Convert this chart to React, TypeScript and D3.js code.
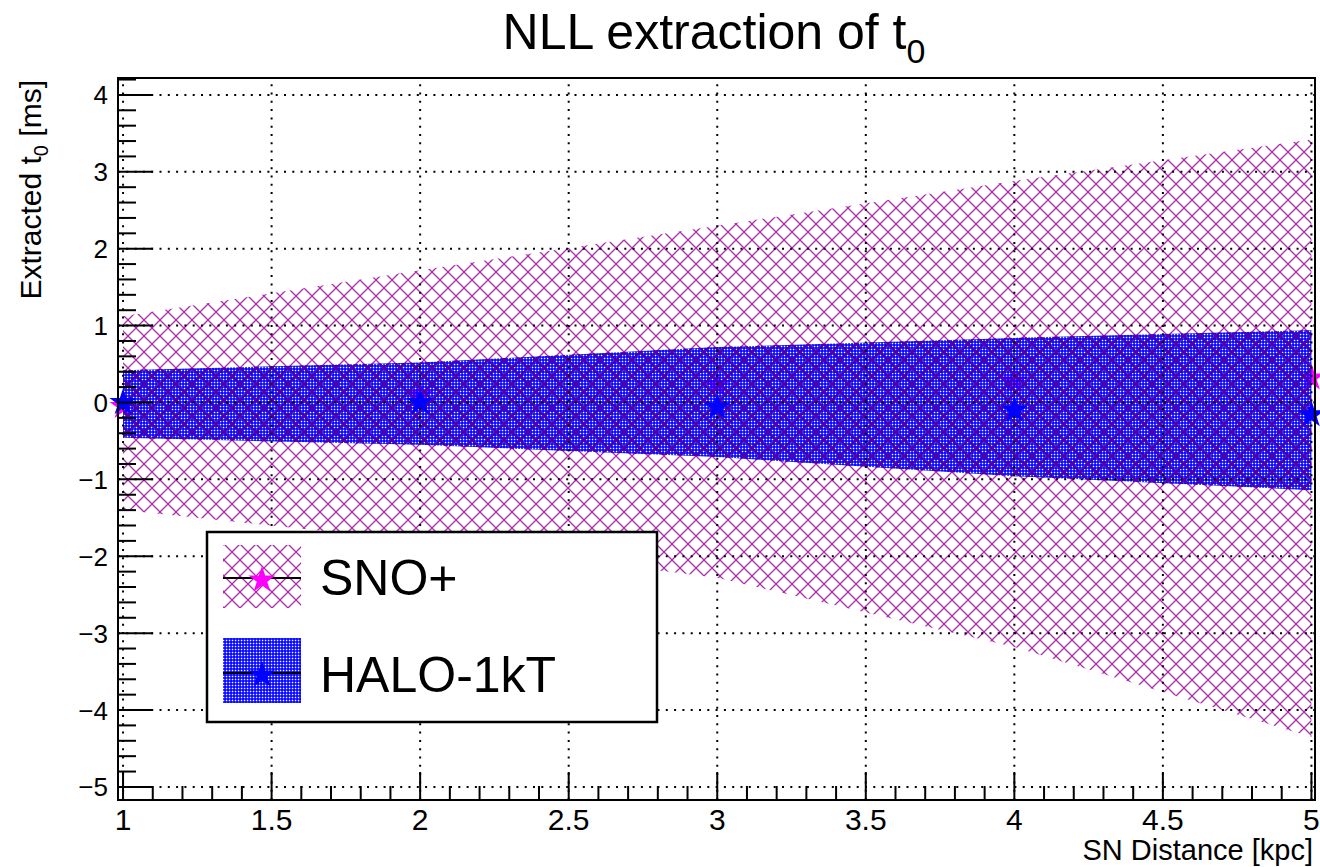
import * as d3 from 'd3'

const distances = [1, 2, 3, 4, 5]
const snoT0 = [-0.05, 0.1, 0.23, 0.28, 0.32]
const snoLow = [-1.4, -1.8, -2.28, -3.18, -4.35]
const snoHigh = [1.12, 1.72, 2.3, 2.88, 3.42]
const haloT0 = [0.0, 0.0, -0.06, -0.1, -0.16]
const haloLow = [-0.46, -0.55, -0.71, -0.96, -1.14]
const haloHigh = [0.42, 0.52, 0.72, 0.84, 0.94]

const xMajorTicks = [1, 1.5, 2, 2.5, 3, 3.5, 4, 4.5, 5]
const yMajorTicks = [-5, -4, -3, -2, -1, 0, 1, 2, 3, 4]

type Pt = { x: number; lo: number; hi: number; v: number }

const font = '"Liberation Sans", Arial, Helvetica, sans-serif'
const magenta = '#ff00ff'
const blue = '#0000ff'

export default function App() {
  const width = 1320
  const height = 867
  const frame = { left: 118, right: 1315, top: 78, bottom: 800 }

  const x = d3.scaleLinear().domain([0.983, 5.012]).range([frame.left, frame.right])
  const y = d3.scaleLinear().domain([-5.17, 4.22]).range([frame.bottom, frame.top])

  const sno: Pt[] = distances.map((d, i) => ({ x: d, lo: snoLow[i], hi: snoHigh[i], v: snoT0[i] }))
  const halo: Pt[] = distances.map((d, i) => ({ x: d, lo: haloLow[i], hi: haloHigh[i], v: haloT0[i] }))

  const area = d3
    .area<Pt>()
    .x((d) => x(d.x))
    .y0((d) => y(d.lo))
    .y1((d) => y(d.hi))

  const star = d3.symbol(d3.symbolStar, 230)() ?? ''

  const xMinor = d3.range(10, 51).map((v) => v / 10).filter((v) => !xMajorTicks.includes(v))
  const yMinor = d3
    .range(-25, 22)
    .map((v) => Math.round(v * 2) / 10)
    .filter((v) => !yMajorTicks.includes(v) && v >= -5.17 && v <= 4.22)

  const fmt = (v: number) => (v < 0 ? `\u2212${Math.abs(v)}` : `${v}`)

  return (
    <svg width={width} height={height} style={{ position: 'absolute', left: 0, top: 0, background: '#fff' }} fontFamily={font}>
      <defs>
        <pattern id="hatch" width="16" height="16" patternUnits="userSpaceOnUse">
          <path d="M0 0L16 16M16 0L0 16" stroke="#aa2caa" strokeWidth="1.3" fill="none" />
        </pattern>
        <pattern id="hatchDark" width="16" height="16" patternUnits="userSpaceOnUse">
          <path d="M0 0L16 16M16 0L0 16" stroke="#4c00a6" strokeWidth="2.2" fill="none" />
        </pattern>
        <pattern id="dots" width="3" height="3" patternUnits="userSpaceOnUse">
          <path d="M0 0h3v3h-3z M0.8 0.8h1.5v1.5h-1.5z" fill={blue} fillRule="evenodd" />
        </pattern>
        <clipPath id="haloClip">
          <path d={area(halo) ?? ''} />
        </clipPath>
      </defs>

      <rect x={0} y={0} width={width} height={height} fill="#fff" />

      {/* title */}
      <text x={714} y={49} textAnchor="middle" fontSize={50} fill="#000">
        NLL extraction of t
        <tspan fontSize={34} dy={14}>0</tspan>
      </text>

      {/* SNO+ band and points */}
      <path d={area(sno) ?? ''} fill="url(#hatch)" />
      {sno.map((d) => (
        <path key={`s${d.x}`} d={star} transform={`translate(${x(d.x)},${y(d.v)})`} fill={magenta} />
      ))}

      {/* HALO-1kT band */}
      <path d={area(halo) ?? ''} fill="url(#dots)" />
      <g clipPath="url(#haloClip)">
        <path d={area(sno) ?? ''} fill="url(#hatchDark)" />
      </g>

      {/* grid */}
      <g stroke="#000" strokeWidth={2} strokeDasharray="2 6.3">
        {xMajorTicks.map((t) => (
          <line key={`gx${t}`} x1={x(t)} x2={x(t)} y1={frame.bottom} y2={frame.top} />
        ))}
        {yMajorTicks.map((t) => (
          <line key={`gy${t}`} x1={frame.left} x2={frame.right} y1={y(t)} y2={y(t)} />
        ))}
      </g>

      {halo.map((d) => (
        <path key={`h${d.x}`} d={star} transform={`translate(${x(d.x)},${y(d.v)})`} fill={blue} />
      ))}

      {/* ticks */}
      <g stroke="#000" strokeWidth={2}>
        {xMajorTicks.map((t) => (
          <line key={`tx${t}`} x1={x(t)} x2={x(t)} y1={frame.bottom} y2={frame.bottom - 28} />
        ))}
        {xMinor.map((t) => (
          <line key={`mx${t}`} x1={x(t)} x2={x(t)} y1={frame.bottom} y2={frame.bottom - 14} />
        ))}
        {yMajorTicks.map((t) => (
          <line key={`ty${t}`} x1={frame.left} x2={frame.left + 35} y1={y(t)} y2={y(t)} />
        ))}
        {yMinor.map((t) => (
          <line key={`my${t}`} x1={frame.left} x2={frame.left + 18} y1={y(t)} y2={y(t)} />
        ))}
      </g>

      <rect
        x={frame.left}
        y={frame.top}
        width={frame.right - frame.left}
        height={frame.bottom - frame.top}
        fill="none"
        stroke="#000"
        strokeWidth={2}
      />

      {/* tick labels */}
      {xMajorTicks.map((t) => (
        <text key={`lx${t}`} x={x(t)} y={830} textAnchor="middle" fontSize={30} fill="#000">
          {t}
        </text>
      ))}
      {yMajorTicks.map((t) => (
        <text key={`ly${t}`} x={108} y={y(t) + 9.5} textAnchor="end" fontSize={26} fill="#000">
          {fmt(t)}
        </text>
      ))}

      {/* axis titles */}
      <text x={1313} y={860} textAnchor="end" fontSize={29} fill="#000">
        SN Distance [kpc]
      </text>
      <text transform="translate(41,80) rotate(-90)" textAnchor="end" fontSize={30} fill="#000">
        Extracted t<tspan fontSize={20} dy={7}>0</tspan>
        <tspan dy={-7}> [ms]</tspan>
      </text>

      {/* legend */}
      <g>
        <rect x={207} y={532} width={450} height={190} fill="#fff" stroke="#000" strokeWidth={2.5} />
        <rect x={223} y={545} width={78} height={63} fill="url(#hatch)" />
        <line x1={223} x2={301} y1={578} y2={578} stroke="#000" strokeWidth={2} />
        <path d={star} transform="translate(262,580)" fill={magenta} />
        <text x={320} y={595} fontSize={50} fill="#000">
          SNO+
        </text>
        <rect x={223} y={638} width={78} height={65} fill="url(#dots)" />
        <line x1={223} x2={301} y1={673} y2={673} stroke="#000" strokeWidth={2} />
        <path d={star} transform="translate(262,675)" fill={blue} />
        <text x={320} y={692} fontSize={50} fill="#000">
          HALO-1kT
        </text>
      </g>
    </svg>
  )
}
